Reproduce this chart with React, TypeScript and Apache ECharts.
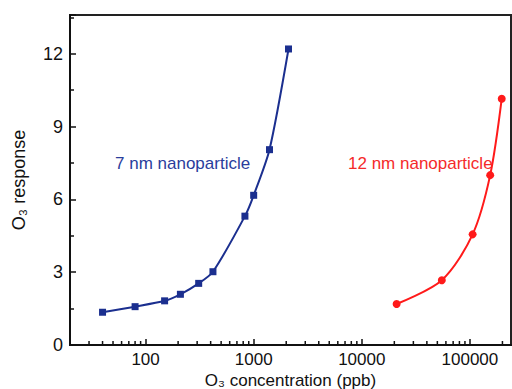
import React, { useEffect, useRef } from "react";
import * as echarts from "echarts";

const smallX = [40, 80, 150, 210, 310, 420, 830, 1000, 1400, 2100];
const smallY = [1.35, 1.58, 1.82, 2.09, 2.54, 3.02, 5.31, 6.17, 8.05, 12.2];
const largeX = [21000, 55000, 106000, 154000, 197000];
const largeY = [1.69, 2.67, 4.56, 7.0, 10.15];
const xMinorTicks = [
  30, 40, 50, 60, 70, 80, 90,
  200, 300, 400, 500, 600, 700, 800, 900,
  2000, 3000, 4000, 5000, 6000, 7000, 8000, 9000,
  20000, 30000, 40000, 50000, 60000, 70000, 80000, 90000,
  200000,
];
const yTicks = [0, 3, 6, 9, 12];

const BLUE = "#1b2f8f";
const RED = "#ff1a1a";
const FONT = "Liberation Sans, Arial, sans-serif";

export default function App() {
  const ref = useRef<HTMLDivElement>(null);
  useEffect(() => {
    document.body.style.margin = "0";
    const chart = echarts.init(ref.current!, null, { renderer: "svg" });
    chart.setOption({
      animation: false,
      backgroundColor: "#ffffff",
      textStyle: { fontFamily: FONT },
      grid: {
        left: 70,
        right: 1,
        top: 15,
        bottom: 44,
        outerBoundsMode: "none",
        containLabel: false,
        show: true,
        borderColor: "#222",
        borderWidth: 2,
      },
      xAxis: {
        type: "log",
        logBase: 10,
        min: 20,
        max: 240000,
        name: "O₃ concentration (ppb)",
        nameLocation: "middle",
        nameGap: 27,
        nameMoveOverlap: false,
        nameTextStyle: { fontSize: 17, color: "#111", fontFamily: FONT, lineHeight: 16 },
        axisLine: { lineStyle: { color: "#111", width: 2 } },
        axisTick: { inside: true, length: 6, lineStyle: { color: "#111", width: 1.5 } },
        axisLabel: {
          showMinLabel: false,
          showMaxLabel: false,
          fontSize: 17,
          lineHeight: 15,
          color: "#111",
          margin: 7,
          fontFamily: FONT,
          formatter: (v: number) => String(Math.round(v)),
        },
        splitLine: { show: false },
      },
      yAxis: {
        type: "value",
        min: 0,
        max: 13.6,
        interval: 3,
        name: "O₃ response",
        nameLocation: "middle",
        nameGap: 42,
        nameMoveOverlap: false,
        nameTextStyle: { fontSize: 18, color: "#111", fontFamily: FONT },
        axisLine: { lineStyle: { color: "#111", width: 2 } },
        axisTick: { inside: true, length: 6, lineStyle: { color: "#111", width: 1.5 } },
        minorTick: { show: true, splitNumber: 2, length: 4, lineStyle: { color: "#111", width: 1.5 } },
        axisLabel: {
          showMaxLabel: false,
          fontSize: 18,
          color: "#111",
          margin: 7,
          fontFamily: FONT,
          formatter: (v: number) => (yTicks.includes(v) ? String(v) : ""),
        },
        splitLine: { show: false },
      },
      graphic: [
        {
          type: "text",
          left: 115,
          top: 155,
          style: { text: "7 nm nanoparticle", fill: "#2a3d9c", fontSize: 17, fontFamily: FONT },
        },
        {
          type: "text",
          left: 348,
          top: 155,
          style: { text: "12 nm nanoparticle", fill: "#f52a2a", fontSize: 17, fontFamily: FONT },
        },
      ],
      series: [
        {
          type: "custom",
          silent: true,
          clip: false,
          data: xMinorTicks.map((v) => [v, 0]),
          renderItem: (params: any, api: any) => {
            const p = api.coord([api.value(0), 0]);
            return {
              type: "line",
              shape: { x1: p[0], y1: p[1], x2: p[0], y2: p[1] - 4 },
              style: { stroke: "#111", lineWidth: 1.5 },
              z2: 10,
            };
          },
          z: 5,
        },
        {
          type: "line",
          data: smallX.map((x, i) => [x, smallY[i]]),
          smooth: 0.25,
          symbol: "rect",
          symbolSize: 7,
          lineStyle: { color: BLUE, width: 2 },
          itemStyle: { color: BLUE },
          z: 3,
        },
        {
          type: "line",
          data: largeX.map((x, i) => [x, largeY[i]]),
          smooth: 0.3,
          symbol: "circle",
          symbolSize: 8,
          lineStyle: { color: RED, width: 2 },
          itemStyle: { color: RED },
          z: 3,
        },
      ],
    });
    return () => chart.dispose();
  }, []);
  return (
    <div
      ref={ref}
      style={{ position: "absolute", left: 0, top: 0, width: 512, height: 389 }}
    />
  );
}
